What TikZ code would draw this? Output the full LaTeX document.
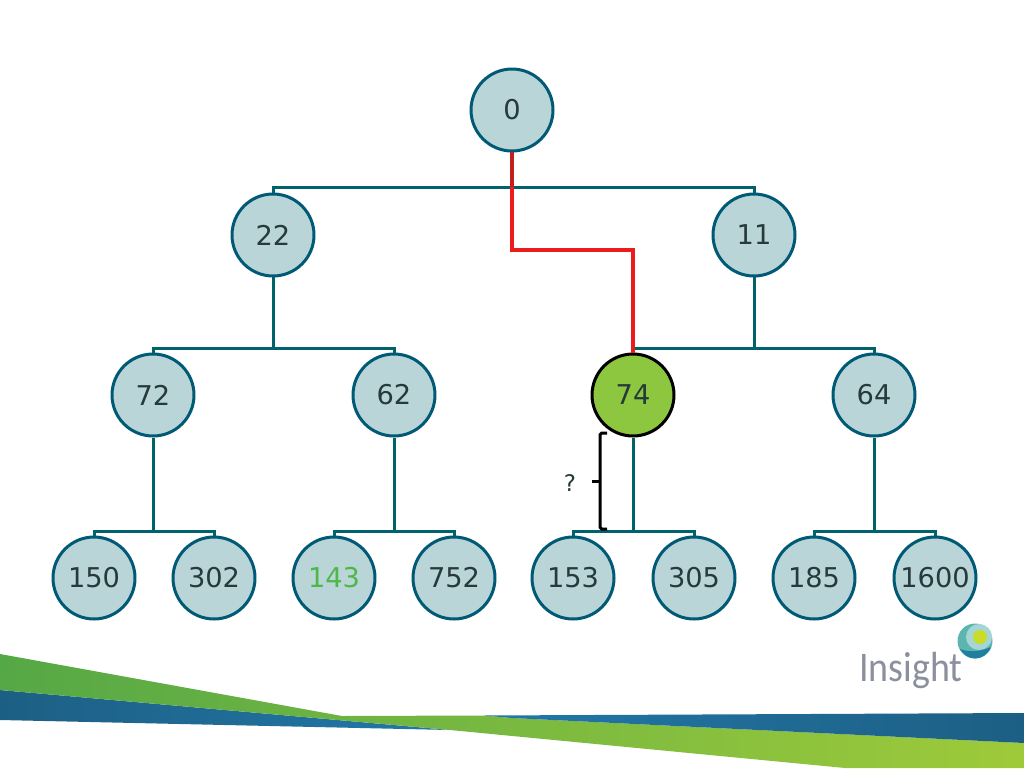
\documentclass[tikz,border=0pt]{standalone}
\usepackage{fontspec}
\setmainfont{DejaVu Sans}
\newfontfamily\logofont{Carlito}
\usepackage{xcolor}
\definecolor{nodefill}{HTML}{B9D5D8}
\definecolor{nodeline}{HTML}{015A75}
\definecolor{edgeteal}{HTML}{00626A}
\definecolor{hitgreen}{HTML}{8DC63F}
\definecolor{numtext}{HTML}{26393B}
\definecolor{bestgreen}{HTML}{4DB848}
\definecolor{logogrey}{HTML}{8C8F9E}
\definecolor{banddark}{HTML}{1D5F84}
\definecolor{bandblue}{HTML}{2278A8}
\definecolor{bandgreen}{HTML}{55A846}
\definecolor{bandmid}{HTML}{64AF41}
\definecolor{bandlime}{HTML}{9ECA3A}
\definecolor{logoteal}{HTML}{5DB5B0}
\definecolor{logopale}{HTML}{A5D5D5}
\definecolor{logosea}{HTML}{1F7F9F}
\definecolor{logosun}{HTML}{C8DC28}
\definecolor{pathred}{HTML}{EC1C1C}
\definecolor{pathdark}{HTML}{C0201F}
\tikzset{
  treenode/.style={circle, draw=nodeline, fill=nodefill, line width=0.06cm, minimum size=1.64cm, inner sep=0pt, text=numtext, font=\fontsize{15.5}{18}\selectfont},
  edge/.style={draw=edgeteal, line width=0.06cm},
  rededge/.style={draw=pathred, line width=0.065cm}
}

\begin{document}
\begin{tikzpicture}[x=0.02cm, y=-0.02cm]
    \useasboundingbox (0,0) rectangle (1024,768);

    % bands at the bottom
    \shade[left color=banddark, right color=bandblue] (0,690) -- (450,730) -- (0,720) -- cycle;
    \shade[left color=bandgreen, middle color=bandmid, right color=bandlime] (0,654) -- (342,716) -- (483,715.5) -- (512,718) -- (1024,743) -- (1024,768) -- (845,768) -- (450,730) -- (0,690) -- cycle;
    \shade[left color=bandblue, right color=banddark] (483,715.5) -- (1024,713) -- (1024,743) -- (512,718) -- cycle;

    \node[treenode] at (512, 110)   (n0) {0};
    \node[treenode] at (273, 235)   (n22) {22};
    \node[treenode] at (754, 235)   (n11) {11};
    \node[treenode] at (153, 395)   (n72) {72};
    \node[treenode] at (394, 395)   (n62) {62};
    \node[treenode, draw=black, fill=hitgreen] at (633, 395)   (n74) {74};
    \node[treenode] at (874, 395)   (n64) {64};
    \node[treenode] at (94, 578)    (n150) {150};
    \node[treenode] at (214, 578)   (n302) {302};
    \node[treenode, text=bestgreen] at (334, 578)   (n143) {143};
    \node[treenode] at (454, 578)   (n752) {752};
    \node[treenode] at (573, 578)   (n153) {153};
    \node[treenode] at (694, 578)   (n305) {305};
    \node[treenode] at (814, 578)   (n185) {185};
    \node[treenode] at (935, 578)   (n1600) {1600};

    \coordinate (f0) at (512, 187);
    \coordinate (f22) at (273, 348);
    \coordinate (f11) at (754, 348);
    \coordinate (f72) at (153, 531);
    \coordinate (f62) at (394, 531);
    \coordinate (f74) at (633, 531);
    \coordinate (f64) at (874, 531);
    \coordinate (turn) at (512, 250);

    \draw [edge] (n22) |- (f0) -| (n11);
    \draw [edge] (n72) |- (f22) -| (n62);
    \draw [edge] (n74) |- (f11) -| (n64);
    \draw [edge] (n150) |- (f72) -| (n302);
    \draw [edge] (n143) |- (f62) -| (n752);
    \draw [edge] (n153) |- (f74) -| (n305);
    \draw [edge] (n185) |- (f64) -| (n1600);
    \draw [edge] (n22) -- (f22);
    \draw [edge] (n11) -- (f11);
    \draw [edge] (n72) -- (f72);
    \draw [edge] (n62) -- (f62);
    \draw [edge] (n74) -- (f74);
    \draw [edge] (n64) -- (f64);
    \draw [rededge] (n0) -- (turn) -| (n74);
    \draw [line width=0.065cm, draw=pathdark] (n0) -- (f0);

    % gap bracket
    \coordinate (gaptop) at (607, 433);
    \coordinate (gapbot) at (607, 529);
    \coordinate (gapmid) at (600, 481);
    \coordinate (gaptick) at (592, 481);
    \draw [line width=0.06cm, rounded corners=1pt] (gaptop) -| (gapmid) |- (gapbot);
    \draw [line width=0.06cm] (gaptick) -- (gapmid);
    \node[text=numtext] at (570, 483) (gaplabel) {\fontsize{13}{15}\selectfont ?};

    % logo
    \fill[logoteal] (975, 641) circle (17.5);
    \fill[logopale] (979, 637) circle (13);
    \fill[logosun] (980, 637) circle (7);
    \fill[logosea] (960, 649) .. controls (970, 653) and (982, 651) .. (991, 647) .. controls (988, 654) and (982, 658.5) .. (975, 658.5) .. controls (968, 658.5) and (963, 654) .. (960, 649) -- cycle;
    \node[text=logogrey, font=\logofont\fontsize{24}{28}\selectfont, xscale=0.9, anchor=base west, inner sep=0pt] at (859, 681) (logotext) {Insight};
\end{tikzpicture}
\end{document}
